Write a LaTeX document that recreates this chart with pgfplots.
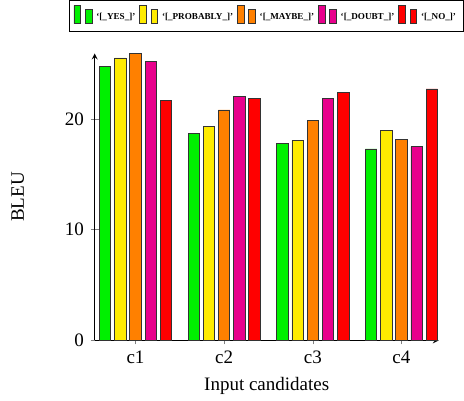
\documentclass[border=0pt]{standalone}
\usepackage{fontspec}
\setmainfont{Liberation Serif}
\usepackage{pgfplots}
\pgfplotsset{compat=1.18}
\definecolor{cgreen}{RGB}{0,240,0}
\definecolor{cyellow}{RGB}{255,235,0}
\definecolor{corange}{RGB}{255,128,0}
\definecolor{cpink}{RGB}{232,0,140}
\definecolor{cred}{RGB}{255,0,0}
\begin{document}
\begin{tikzpicture}
\begin{axis}[
  /pgf/number format/assume math mode=true,
  width=181pt, height=151pt, scale only axis,
  ybar=2pt, bar width=6pt,
  axis lines=left,
  tick align=center,
  xmin=0.54, xmax=4.42,
  ymin=0, ymax=25.9,
  xtick={1,2,3,4}, xticklabels={c1,c2,c3,c4},
  ytick={0,10,20},
  xlabel={Input candidates}, ylabel={BLEU},
  ylabel shift=12pt,
  ylabel style={inner ysep=6pt},
  legend image code/.code={
    \draw[#1,/tikz/.cd,yshift=-3pt] (0pt,0pt) rectangle (3.6pt,9.5pt)
      (6pt,0pt) rectangle (9.6pt,7.2pt);},
  legend style={at={(0.5,1.077)}, anchor=south, legend columns=-1, font=\fontsize{4.8}{5}\selectfont\bfseries, draw=black, inner ysep=2.5pt, inner xsep=2pt,
    /tikz/every even column/.append style={column sep=0pt},
    /tikz/every odd column/.append style={column sep=0pt}},
  every axis plot/.append style={draw=black!80},
]
\addplot[fill=cgreen] coordinates {(1,24.75) (2,18.65) (3,17.76) (4,17.28)};
\addplot[fill=cyellow] coordinates {(1,25.5) (2,19.35) (3,18.05) (4,18.95)};
\addplot[fill=corange] coordinates {(1,25.9) (2,20.8) (3,19.85) (4,18.15)};
\addplot[fill=cpink] coordinates {(1,25.2) (2,22.0) (3,21.85) (4,17.49)};
\addplot[fill=cred] coordinates {(1,21.7) (2,21.85) (3,22.36) (4,22.7)};
\legend{`[\_YES\_]',`[\_PROBABLY\_]',`[\_MAYBE\_]',`[\_DOUBT\_]',`[\_NO\_]'}
\end{axis}
\end{tikzpicture}
\end{document}
